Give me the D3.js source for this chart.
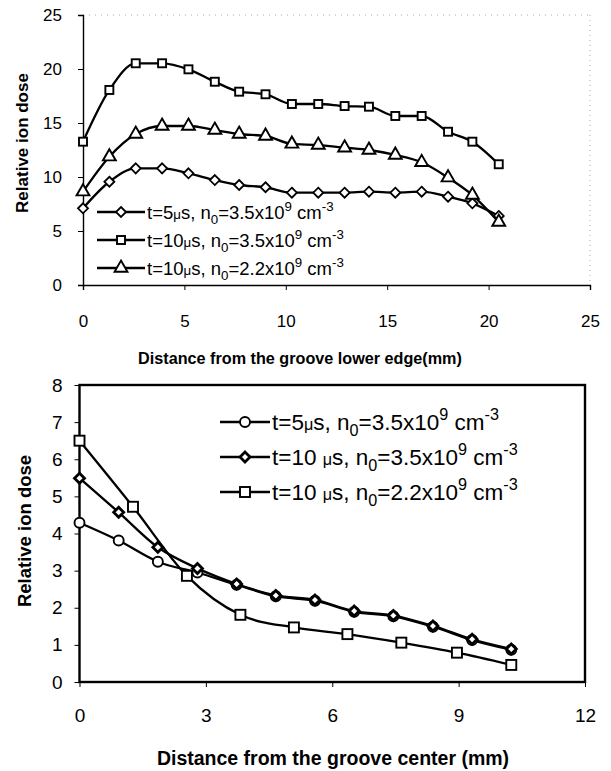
<!DOCTYPE html>
<html>
<head>
<meta charset="utf-8">
<script src="https://cdn.jsdelivr.net/npm/d3@7"></script>
<style>
  body { margin: 0; background: #fff; }
  svg { display: block; font-family: "Liberation Sans", Arial, sans-serif; }
</style>
</head>
<body>
<div id="chart-container"></div>
<script>
// ---- data: top panel (distance from groove lower edge, mm)
const topX = [0, 1.3, 2.6, 3.9, 5.2, 6.5, 7.7, 9.0, 10.3, 11.6, 12.9, 14.1, 15.4, 16.7, 18.0, 19.2, 20.5];
const top5us35 = [7.1, 9.56, 10.8, 10.8, 10.34, 9.72, 9.26, 9.05, 8.55, 8.55, 8.55, 8.64, 8.55, 8.64, 8.18, 7.56, 6.39];
const top10us35 = [13.27, 18.06, 20.53, 20.53, 19.97, 18.82, 17.9, 17.66, 16.76, 16.76, 16.57, 16.51, 15.65, 15.65, 14.19, 13.27, 11.18];
const top10us22 = [8.64, 11.88, 13.98, 14.72, 14.72, 14.35, 13.98, 13.8, 13.06, 12.96, 12.71, 12.5, 12.04, 11.36, 9.94, 8.33, 5.83];
const topXTicks = [0, 5, 10, 15, 20, 25];
const topYTicks = [0, 5, 10, 15, 20, 25];

// ---- data: bottom panel (distance from groove center, mm)
const botX = [0, 0.93, 1.86, 2.8, 3.73, 4.66, 5.59, 6.52, 7.45, 8.39, 9.32, 10.25];
const bot5us35 = [4.29, 3.81, 3.24, 2.95, 2.62, 2.31, 2.19, 1.89, 1.77, 1.49, 1.13, 0.87];
const bot10us35 = [5.49, 4.57, 3.63, 3.06, 2.64, 2.33, 2.21, 1.91, 1.79, 1.51, 1.15, 0.89];
const botXsq = [0, 1.27, 2.55, 3.82, 5.09, 6.36, 7.64, 8.96, 10.25];
const bot10us22 = [6.5, 4.72, 2.86, 1.81, 1.47, 1.29, 1.06, 0.79, 0.46];
const botXTicks = [0, 3, 6, 9, 12];
const botYTicks = [0, 1, 2, 3, 4, 5, 6, 7, 8];

const W = 611, H = 771;
const FONT = "Liberation Sans, Arial, sans-serif";

const svg = d3.select("#chart-container")
    .append("svg")
    .attr("width", W)
    .attr("height", H);

// legend label with mu, subscript and superscripts
function legendLabel(sel, tpart, nval, fs) {
    const t = sel.append("text")
        .attr("font-size", fs)
        .attr("fill", "#000");
    const small = fs * 0.72;
    t.append("tspan").text(tpart);
    t.append("tspan").attr("font-size", small).text("\u03bc");
    t.append("tspan").text("s, n");
    t.append("tspan").attr("font-size", small).attr("dy", fs * 0.25).text("0");
    t.append("tspan").attr("dy", -fs * 0.25).text("=" + nval + "x10");
    t.append("tspan").attr("font-size", small).attr("dy", -fs * 0.45).text("9");
    t.append("tspan").attr("dy", fs * 0.45).text(" cm");
    t.append("tspan").attr("font-size", small).attr("dy", -fs * 0.45).text("-3");
    return t;
}

function drawMarker(g, kind, cx, cy, size) {
    if (kind === "square") {
        g.append("rect")
            .attr("x", cx - size / 2).attr("y", cy - size / 2)
            .attr("width", size).attr("height", size)
            .attr("fill", "#fff").attr("stroke", "#000").attr("stroke-width", 1.9);
    } else if (kind === "circle") {
        g.append("circle")
            .attr("cx", cx).attr("cy", cy).attr("r", size / 2)
            .attr("fill", "#fff").attr("stroke", "#000").attr("stroke-width", 1.9);
    } else if (kind === "triangle") {
        g.append("path")
            .attr("transform", `translate(${cx},${cy})`)
            .attr("d", d3.symbol().type(d3.symbolTriangle).size(size * size * 0.5)())
            .attr("fill", "#fff").attr("stroke", "#000").attr("stroke-width", 1.9);
    } else {
        // regular diamond (rotated square)
        const h = size / 2;
        g.append("path")
            .attr("d", `M${cx},${cy - h}L${cx + h},${cy}L${cx},${cy + h}L${cx - h},${cy}Z`)
            .attr("fill", "#fff").attr("stroke", "#000")
            .attr("stroke-width", kind === "diamondBold" ? 2.8 : 1.8);
    }
}

function drawSeries(g, x, y, xs, ys, kind, size) {
    const pts = xs.map((d, i) => [x(d), y(ys[i])]);
    g.append("path")
        .datum(pts)
        .attr("fill", "none")
        .attr("stroke", "#000")
        .attr("stroke-width", 2.3)
        .attr("stroke-linejoin", "round")
        .attr("d", d3.line().curve(d3.curveMonotoneX));
    pts.forEach(p => drawMarker(g, kind, p[0], p[1], size));
}

// ================= top chart =================
const xTop = d3.scaleLinear().domain([0, 25]).range([83, 590]);
const yTop = d3.scaleLinear().domain([0, 25]).range([285, 15]);
const gTop = svg.append("g");

// faint dotted frame top/right
gTop.append("line")
    .attr("x1", xTop(0)).attr("x2", xTop(25)).attr("y1", yTop(25)).attr("y2", yTop(25))
    .attr("stroke", "#aaa").attr("stroke-dasharray", "1,5");
gTop.append("line")
    .attr("x1", xTop(25)).attr("x2", xTop(25)).attr("y1", yTop(25)).attr("y2", yTop(0))
    .attr("stroke", "#aaa").attr("stroke-dasharray", "1,4");

gTop.append("g")
    .attr("transform", `translate(0,${yTop(0)})`)
    .call(d3.axisBottom(xTop).tickValues(topXTicks).tickSize(5).tickPadding(25))
    .call(g => g.select(".domain").attr("stroke-width", 1.4))
    .call(g => g.selectAll("text").attr("font-size", 17).attr("font-family", FONT).attr("fill", "#000"));

gTop.append("g")
    .attr("transform", `translate(${xTop(0)},0)`)
    .call(d3.axisLeft(yTop).tickValues(topYTicks).tickSize(5).tickPadding(16))
    .call(g => g.select(".domain").attr("stroke-width", 1.4))
    .call(g => g.selectAll("text").attr("font-size", 17).attr("font-family", FONT).attr("fill", "#000"));

drawSeries(gTop, xTop, yTop, topX, top5us35, "diamond", 10);
drawSeries(gTop, xTop, yTop, topX, top10us35, "square", 8);
drawSeries(gTop, xTop, yTop, topX, top10us22, "triangle", 12);

// top legend
const topLegend = [
    { kind: "diamond", size: 10, t: "t=5", n: "3.5" },
    { kind: "square", size: 8, t: "t=10", n: "3.5" },
    { kind: "triangle", size: 12, t: "t=10", n: "2.2" }
];
topLegend.forEach((d, i) => {
    const yy = 212 + i * 28;
    gTop.append("line").attr("x1", 97).attr("x2", 145).attr("y1", yy).attr("y2", yy)
        .attr("stroke", "#000").attr("stroke-width", 2.3);
    drawMarker(gTop, d.kind, 121, yy, d.size);
    legendLabel(gTop, d.t, d.n, 18.5).attr("x", 147).attr("y", yy + 7);
});

svg.append("text")
    .attr("transform", "translate(28,143) rotate(-90)")
    .attr("text-anchor", "middle")
    .attr("font-size", 17)
    .attr("font-weight", "bold")
    .text("Relative ion dose");

svg.append("text")
    .attr("x", 300).attr("y", 364)
    .attr("text-anchor", "middle")
    .attr("font-size", 16.2)
    .attr("font-weight", "bold")
    .text("Distance from the groove lower edge(mm)");

// ================= bottom chart =================
const xBot = d3.scaleLinear().domain([0, 12]).range([79.5, 585]);
const yBot = d3.scaleLinear().domain([0, 8]).range([682, 385]);
const gBot = svg.append("g");

gBot.append("rect")
    .attr("x", xBot(0)).attr("y", yBot(8))
    .attr("width", xBot(12) - xBot(0)).attr("height", yBot(0) - yBot(8))
    .attr("fill", "none").attr("stroke", "#000").attr("stroke-width", 2.4);

gBot.append("g")
    .attr("transform", `translate(0,${yBot(0)})`)
    .call(d3.axisBottom(xBot).tickValues(botXTicks).tickSize(5).tickPadding(22))
    .call(g => g.select(".domain").remove())
    .call(g => g.selectAll("text").attr("font-size", 19).attr("font-family", FONT).attr("fill", "#000"));

gBot.append("g")
    .attr("transform", `translate(${xBot(0)},0)`)
    .call(d3.axisLeft(yBot).tickValues(botYTicks).tickSize(5).tickPadding(12))
    .call(g => g.select(".domain").remove())
    .call(g => g.selectAll("text").attr("font-size", 19).attr("font-family", FONT).attr("fill", "#000"));

drawSeries(gBot, xBot, yBot, botX, bot5us35, "circle", 10);
drawSeries(gBot, xBot, yBot, botX, bot10us35, "diamondBold", 10);
drawSeries(gBot, xBot, yBot, botXsq, bot10us22, "square", 10);

const botLegend = [
    { kind: "circle", size: 10, t: "t=5", n: "3.5" },
    { kind: "diamondBold", size: 10, t: "t=10 ", n: "3.5" },
    { kind: "square", size: 10, t: "t=10 ", n: "2.2" }
];
botLegend.forEach((d, i) => {
    const yy = 422 + i * 35;
    gBot.append("line").attr("x1", 220).attr("x2", 270).attr("y1", yy).attr("y2", yy)
        .attr("stroke", "#000").attr("stroke-width", 2.3);
    drawMarker(gBot, d.kind, 245, yy, d.size);
    legendLabel(gBot, d.t, d.n, 22.5).attr("x", 272).attr("y", yy + 8);
});

svg.append("text")
    .attr("transform", "translate(31,531) rotate(-90)")
    .attr("text-anchor", "middle")
    .attr("font-size", 18.5)
    .attr("font-weight", "bold")
    .text("Relative ion dose");

svg.append("text")
    .attr("x", 333).attr("y", 765)
    .attr("text-anchor", "middle")
    .attr("font-size", 19.5)
    .attr("font-weight", "bold")
    .text("Distance from the groove center (mm)");
</script>
</body>
</html>
